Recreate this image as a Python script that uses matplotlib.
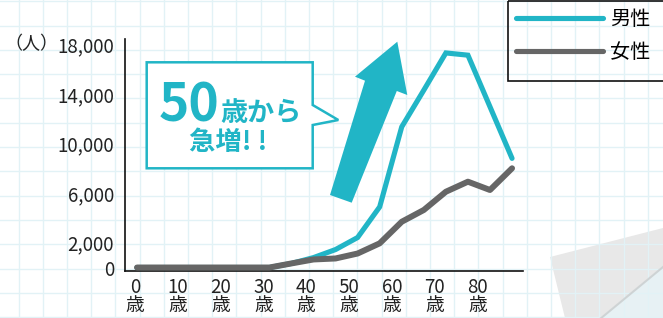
import numpy as np
import matplotlib
matplotlib.use("Agg")
import matplotlib.pyplot as plt
from matplotlib.patches import Polygon, Rectangle

plt.rcParams['font.family'] = ['Noto Sans CJK JP', 'DejaVu Sans']

# ---- data ----
age_groups = ["0-4", "5-9", "10-14", "15-19", "20-24", "25-29", "30-34", "35-39",
              "40-44", "45-49", "50-54", "55-59", "60-64", "65-69", "70-74",
              "75-79", "80-84", "85+"]
male = [0, 0, 0, 0, 0, 0, 0, 330, 800, 1450, 2420, 4890, 11340, 14300, 17300, 17120, 12960, 8800]
female = [0, 0, 0, 0, 0, 0, 0, 330, 650, 730, 1130, 1950, 3690, 4640, 6110, 6920, 6250, 8000]
x_ages = [0, 10, 20, 30, 40, 50, 60, 70, 80]
x_tick_labels = [f"{a}\n歳" for a in x_ages]
y_ticks = [0, 2000, 6000, 10000, 14000, 18000]
y_tick_labels = ["0", "2,000", "6,000", "10,000", "14,000", "18,000"]
series_names = ["男性", "女性"]

CYAN = "#21b5c6"
GRAY = "#666666"
GRID = "#e2f2f6"

W, H = 663, 318
fig = plt.figure(figsize=(W / 100, H / 100), dpi=100)
fig.patch.set_facecolor("white")

# background decoration axes (pixel coords)
bg = fig.add_axes([0, 0, 1, 1], zorder=0)
bg.set_xlim(0, W)
bg.set_ylim(H, 0)
bg.axis("off")
for gx in np.arange(18.5, W, 24.2):
    bg.axvline(gx, color=GRID, lw=1.0)
for gy in np.arange(1.2, H, 24.3):
    bg.axhline(gy, color=GRID, lw=1.0)
# paper fold bottom-right
bg.add_patch(Polygon([(663, 266), (663, 318), (600, 318)], closed=True,
                     facecolor="#e7f1f4", edgecolor="none"))
bg.add_patch(Polygon([(550, 257), (663, 228), (663, 266), (600, 318), (565, 318)],
                     closed=True, facecolor="#e8e8e8", edgecolor="none"))
bg.plot([663, 600], [267, 319], color="#c8cccd", lw=1.5, alpha=0.8)

# main axes
ax = fig.add_axes([125 / W, 1 - 271 / H, (523.3 - 125) / W, (271 - 39.3) / H], zorder=1)
ax.patch.set_alpha(0)
x = np.arange(len(age_groups))
ax.plot(x, male, color=CYAN, lw=3.7, solid_capstyle="round", solid_joinstyle="miter",
        label=series_names[0], zorder=2)
ax.plot(x, female, color=GRAY, lw=4.3, solid_capstyle="round", solid_joinstyle="round",
        label=series_names[1], zorder=3)
ax.set_xlim(-0.544, 17.51)
ax.set_ylim(-280, 18400)
for s in ["top", "right"]:
    ax.spines[s].set_visible(False)
for s in ["left", "bottom"]:
    ax.spines[s].set_linewidth(1.2)
    ax.spines[s].set_color("#111111")
ax.set_yticks(y_ticks)
ax.set_yticklabels(y_tick_labels, fontsize=13.5, color="#222222")
tick_pos = [a * 0.1 * 42.8 / 22.06 - 0.09 for a in x_ages]
ax.set_xticks(tick_pos)
ax.set_xticklabels(x_tick_labels, fontsize=13.5, color="#222222", linespacing=0.85)
ax.tick_params(axis="y", length=0, pad=8)
ax.tick_params(axis="x", length=0, pad=4)
fig.text(4 / W, 1 - 44 / H, "（人）", fontsize=13, color="#222222", va="center", ha="left")

# top decoration axes
fg = fig.add_axes([0, 0, 1, 1], zorder=3)
fg.set_xlim(0, W)
fg.set_ylim(H, 0)
fg.axis("off")

# arrow
arrow = [(330.0, 195.0), (351.7, 202.7), (407.3 - 10.5, 95 - 4.0), (407.3, 95.0),
         (397.3, 41.7), (355.0, 76.7), (355 + 10.0, 76.7 + 4.0)]
fg.add_patch(Polygon(arrow, closed=True, facecolor=CYAN, edgecolor="none"))

# speech bubble
bubble = [(146.7, 62.3), (312.7, 62.3), (312.7, 105), (338.3, 120), (312.7, 125),
          (312.7, 168.3), (146.7, 168.3)]
fg.add_patch(Polygon(bubble, closed=True, facecolor="white", edgecolor=CYAN, lw=1.8,
                     joinstyle="miter"))
fg.text(189, 121, "50", fontsize=37, fontweight="bold", color=CYAN, ha="center",
        va="baseline")
fg.text(261, 121, "歳から", fontsize=19.5, fontweight="bold", color=CYAN, ha="center",
        va="baseline")
fg.text(228, 143, "急増! !", fontsize=19, fontweight="bold", color=CYAN, ha="center",
        va="center")

# legend
fg.add_patch(Rectangle((508.3, 0.8), 200, 80.2, facecolor="none", edgecolor="#111111",
                       lw=1.2))
leg = ax.legend(loc="upper left", bbox_to_anchor=(510 / W, 1 - 3 / H),
                bbox_transform=fig.transFigure, frameon=False, fontsize=14.5,
                handlelength=4.3, handletextpad=0.35, labelspacing=0.6,
                borderaxespad=0, borderpad=0.3)
for h in leg.legend_handles:
    h.set_solid_capstyle("round")
    h.set_linewidth(3.7)

fig.savefig("out.png", dpi=100)
